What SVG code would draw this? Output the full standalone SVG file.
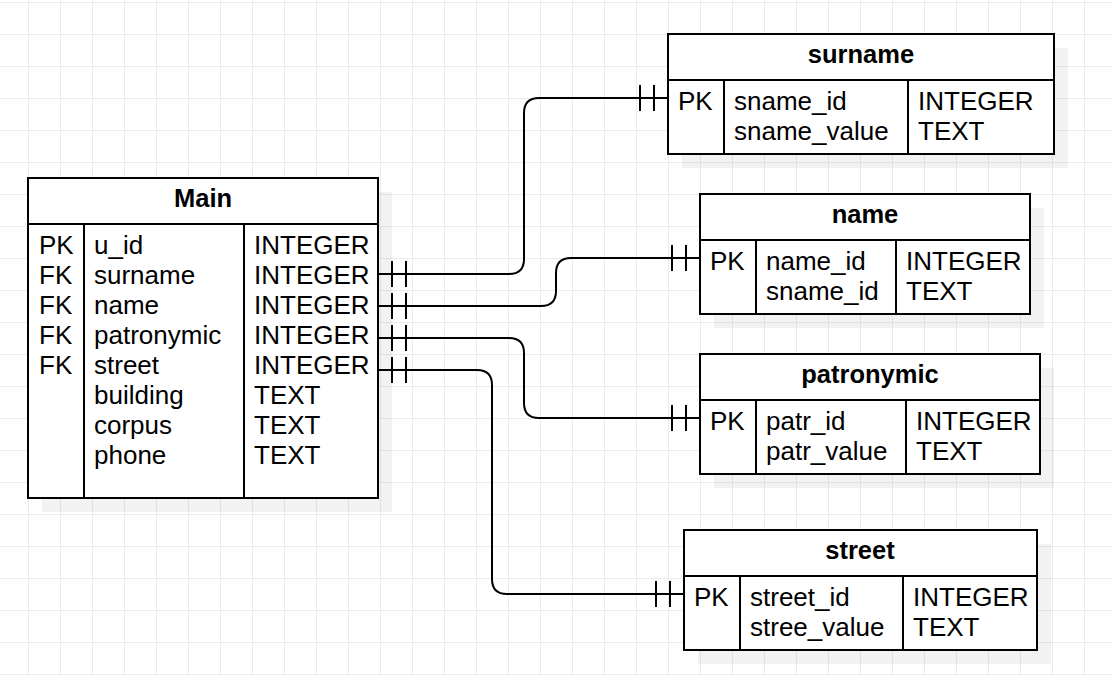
<svg xmlns="http://www.w3.org/2000/svg" width="1112" height="676" viewBox="0 0 1112 676">
<defs>
<pattern id="grid" patternUnits="userSpaceOnUse" x="28" y="2" width="32" height="32">
<rect x="0" y="0" width="32" height="1" fill="#ececec"/>
<rect x="0" y="0" width="1" height="32" fill="#ececec"/>
</pattern>
<style>
.box{fill:#ffffff;stroke:#000;stroke-width:2}
.ln{fill:none;stroke:#000;stroke-width:2}
.sh{fill:#000;fill-opacity:0.05}
.t{font-family:"Liberation Sans",Arial,sans-serif;font-size:26px;fill:#000}
.h{font-family:"Liberation Sans",Arial,sans-serif;font-size:25.5px;font-weight:bold;fill:#000;text-anchor:middle}
.c{fill:none;stroke:#000;stroke-width:2}
</style>
</defs>
<rect x="0" y="0" width="1112" height="676" fill="#ffffff"/>
<rect x="0" y="0" width="1112" height="676" fill="url(#grid)"/>

<g id="connectors">
<path class="c" d="M378 274 H509 Q524 274 524 259 V113 Q524 98 539 98 H668"/>
<path class="c" d="M392 261 V287 M406 261 V287 M640 85 V111 M654 85 V111"/>
<path class="c" d="M378 306 H541 Q556 306 556 291 V273 Q556 258 571 258 H700"/>
<path class="c" d="M392 293 V319 M406 293 V319 M672 245 V271 M686 245 V271"/>
<path class="c" d="M378 338 H509 Q524 338 524 353 V403 Q524 418 539 418 H700"/>
<path class="c" d="M392 325 V351 M406 325 V351 M672 405 V431 M686 405 V431"/>
<path class="c" d="M378 370 H477 Q492 370 492 385 V579 Q492 594 507 594 H684"/>
<path class="c" d="M392 357 V383 M406 357 V383 M656 581 V607 M670 581 V607"/>
</g>

<g id="main">
<rect class="sh" x="42" y="192" width="350" height="320"/>
<rect class="box" x="28" y="178" width="350" height="320"/>
<path class="ln" d="M28 224 H378 M84 224 V498 M244 224 V498"/>
<text class="h" x="203" y="207">Main</text>
<text class="t" x="39" y="254">PK</text>
<text class="t" x="39" y="284">FK</text>
<text class="t" x="39" y="314">FK</text>
<text class="t" x="39" y="344">FK</text>
<text class="t" x="39" y="374">FK</text>
<text class="t" x="94" y="254">u_id</text>
<text class="t" x="94" y="284">surname</text>
<text class="t" x="94" y="314">name</text>
<text class="t" x="94" y="344">patronymic</text>
<text class="t" x="94" y="374">street</text>
<text class="t" x="94" y="404">building</text>
<text class="t" x="94" y="434">corpus</text>
<text class="t" x="94" y="464">phone</text>
<text class="t" x="254" y="254">INTEGER</text>
<text class="t" x="254" y="284">INTEGER</text>
<text class="t" x="254" y="314">INTEGER</text>
<text class="t" x="254" y="344">INTEGER</text>
<text class="t" x="254" y="374">INTEGER</text>
<text class="t" x="254" y="404">TEXT</text>
<text class="t" x="254" y="434">TEXT</text>
<text class="t" x="254" y="464">TEXT</text>
</g>

<g id="surname">
<rect class="sh" x="682" y="48" width="386" height="120"/>
<rect class="box" x="668" y="34" width="386" height="120"/>
<path class="ln" d="M668 80 H1054 M724 80 V154 M908 80 V154"/>
<text class="h" x="861" y="63">surname</text>
<text class="t" x="678" y="110">PK</text>
<text class="t" x="734" y="110">sname_id</text>
<text class="t" x="734" y="140">sname_value</text>
<text class="t" x="918" y="110">INTEGER</text>
<text class="t" x="918" y="140">TEXT</text>
</g>

<g id="name">
<rect class="sh" x="714" y="208" width="330" height="120"/>
<rect class="box" x="700" y="194" width="330" height="120"/>
<path class="ln" d="M700 240 H1030 M756 240 V314 M896 240 V314"/>
<text class="h" x="865" y="223">name</text>
<text class="t" x="710" y="270">PK</text>
<text class="t" x="766" y="270">name_id</text>
<text class="t" x="766" y="300">sname_id</text>
<text class="t" x="906" y="270">INTEGER</text>
<text class="t" x="906" y="300">TEXT</text>
</g>

<g id="patronymic">
<rect class="sh" x="714" y="368" width="340" height="120"/>
<rect class="box" x="700" y="354" width="340" height="120"/>
<path class="ln" d="M700 400 H1040 M756 400 V474 M906 400 V474"/>
<text class="h" x="870" y="383">patronymic</text>
<text class="t" x="710" y="430">PK</text>
<text class="t" x="766" y="430">patr_id</text>
<text class="t" x="766" y="460">patr_value</text>
<text class="t" x="916" y="430">INTEGER</text>
<text class="t" x="916" y="460">TEXT</text>
</g>

<g id="street">
<rect class="sh" x="698" y="544" width="353" height="120"/>
<rect class="box" x="684" y="530" width="353" height="120"/>
<path class="ln" d="M684 576 H1037 M740 576 V650 M903 576 V650"/>
<text class="h" x="860" y="559">street</text>
<text class="t" x="694" y="606">PK</text>
<text class="t" x="750" y="606">street_id</text>
<text class="t" x="750" y="636">stree_value</text>
<text class="t" x="913" y="606">INTEGER</text>
<text class="t" x="913" y="636">TEXT</text>
</g>
</svg>
